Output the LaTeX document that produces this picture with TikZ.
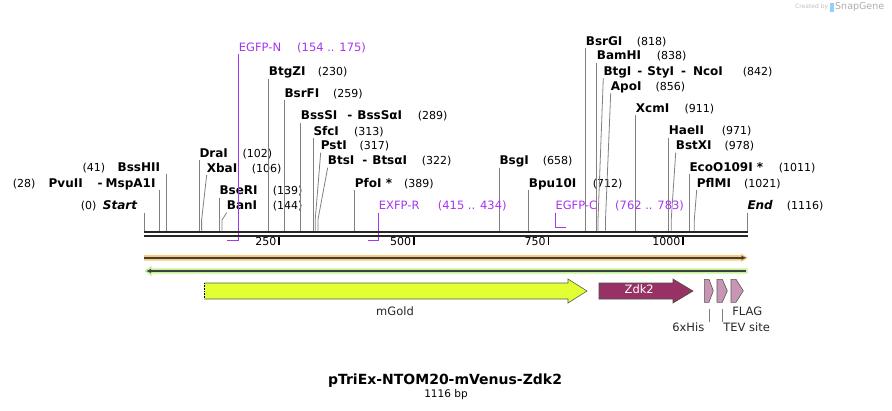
\documentclass[tikz,border=0pt]{standalone}
\usepackage{fontspec}
\setmainfont{DejaVu Sans}
\usetikzlibrary{arrows.meta}
\definecolor{primc}{RGB}{166,52,240}
\definecolor{orgband}{RGB}{251,200,120}
\definecolor{grnband}{RGB}{196,242,150}
\definecolor{mgoldc}{RGB}{225,255,50}
\definecolor{zdkc}{RGB}{153,50,100}
\definecolor{tagc}{RGB}{200,150,180}
\definecolor{leadc}{RGB}{128,128,128}
\definecolor{darkln}{RGB}{64,64,64}
\newcommand{\enzR}[6]{%
 \node[enz] (#1) at (#2,#3) {#4};
 \node[num] (#1n) at (#5,#3) {#6};
 \coordinate (#1s) at (#2,230.5);
 \draw[lead] (#1.south west) -- (#1s);}
\newcommand{\enzS}[7]{%
 \node[enz] (#1) at (#2,#3) {#4};
 \node[num] (#1n) at (#5,#3) {#6};
 \coordinate (#1s) at (#7,230.5);
 \draw[lead] (#1.south west) -- ([yshift=10.5pt]#1s) -- (#1s);}
\newcommand{\enzL}[7]{%
 \node[enz,anchor=east] (#1) at (#2,#3) {#4};
 \node[num] (#1n) at (#5,#3) {#6};
 \coordinate (#1s) at (#7,230.5);
 \draw[lead] (#1s |- #1.south) -- (#1s);}
\newcommand{\dsh}[2]{\hspace{#1}-\hspace{#2}}
\begin{document}
\begin{tikzpicture}[x=1pt,y=-1pt,
  enz/.style={font=\fontsize{12}{13}\selectfont\bfseries, anchor=west, inner sep=0pt, text height=8.8pt, text depth=2.6pt},
  num/.style={font=\fontsize{11}{12}\selectfont, anchor=west, inner sep=0pt, text height=8.8pt, text depth=2.6pt},
  lead/.style={draw=leadc, line width=0.8pt},
  prim/.style={draw=primc, line width=1.5pt},
  primtxt/.style={num, font=\fontsize{11.5}{12}\selectfont, text=primc},
  barln/.style={draw=black!85, line width=2.3pt},
  tick/.style={draw=black, line width=1.6pt},
  featlbl/.style={font=\fontsize{11.5}{12}\selectfont, inner sep=0pt, text height=8.5pt, text depth=2.5pt, text=black!85},
  tagshape/.style={fill=tagc, draw=black!65, line width=0.6pt}]
\useasboundingbox (0,0) rectangle (892,410);

% ---- credit ----
\node[anchor=west, inner sep=0pt, text=gray!50, font=\fontsize{6}{7}\selectfont] (cred) at (795,7) {Created by};
\fill[blue!40!cyan!45] (830,3) rectangle (833.5,11.5);
\node[anchor=west, inner sep=0pt, text=gray!65, font=\fontsize{9.5}{10}\selectfont] (snap) at (835,7) {SnapGene};

% ---- enzyme sites ----
\enzL{start}{137.3}{206.7}{\itshape Start}{80.7}{(0)}{144.3}
\enzL{pvu}{155.7}{184}{PvuII\dsh{15pt}{3pt}MspA1I}{12.7}{(28)}{159.7}
\enzL{bsshii}{160.3}{168.3}{BssHII}{82.3}{(41)}{166.3}
\enzR{dra}{199.3}{154}{DraI}{242.3}{(102)}
\enzS{xba}{206.7}{169}{XbaI}{251.7}{(106)}{201.6}
\enzR{bseri}{219.3}{191.7}{BseRI}{272.7}{(139)}
\enzS{ban}{226.7}{206.7}{BanI}{272.7}{(144)}{222.0}
\enzR{btgzi}{268.7}{72.7}{BtgZI}{317.7}{(230)}
\enzR{bsrfi}{284.3}{94}{BsrFI}{333}{(259)}
\enzR{bsssi}{300.7}{116.7}{BssSI\dsh{10pt}{5pt}BssSαI}{417.7}{(289)}
\enzR{sfci}{313.3}{132}{SfcI}{354}{(313)}
\enzS{psti}{320.7}{146.7}{PstI}{359.3}{(317)}{315.2}
\enzS{btsi}{327.7}{161.7}{BtsI\dsh{8pt}{5pt}BtsαI}{421.7}{(322)}{317.9}
\enzR{pfoi}{354.7}{184}{PfoI *}{404}{(389)}
\enzR{bsgi}{499.3}{161.7}{BsgI}{542.7}{(658)}
\enzR{bpu}{528.7}{184}{Bpu10I}{592.7}{(712)}
\enzR{bsrgi}{585.7}{42.3}{BsrGI}{636.7}{(818)}
\enzR{bamhi}{596.7}{56.7}{BamHI}{656.7}{(838)}
\enzS{btgi}{603.3}{72.3}{BtgI\dsh{6pt}{5pt}StyI\dsh{7pt}{7pt}NcoI}{742.7}{(842)}{598.0}
\enzS{apoi}{610.7}{87.3}{ApoI}{655.3}{(856)}{605.5}
\enzR{xcmi}{635.7}{109.3}{XcmI}{684.3}{(911)}
\enzR{haeii}{668.7}{131.7}{HaeII}{721.7}{(971)}
\enzS{bstxi}{675.7}{146.7}{BstXI}{724.3}{(978)}{671.2}
\enzR{eco}{689.3}{168.3}{EcoO109I *}{778.7}{(1011)}
\enzS{pflmi}{696.7}{184}{PflMI}{744}{(1021)}{694.3}
\enzR{endl}{747.3}{206.7}{\itshape End}{786.7}{(1116)}

% ---- primers ----
\node[primtxt] (egfpn) at (238.7,48.3) {EGFP-N};
\node[primtxt] (egfpnr) at (297,48.3) {(154 .. 175)};
\coordinate (pn1) at (227.4,240.7);
\coordinate (pn2) at (238.7,240.7);
\draw[prim] (egfpn.south west) -- (pn2) -- (pn1);

\node[primtxt] (exfpr) at (378.7,206.7) {EXFP-R};
\node[primtxt] (exfprr) at (437.7,206.7) {(415 .. 434)};
\coordinate (pr1) at (368.0,240.7);
\coordinate (pr2) at (378.7,240.7);
\draw[prim] (exfpr.south west) -- (pr2) -- (pr1);

\node[primtxt] (egfpc) at (555.3,206.7) {EGFP-C};
\node[primtxt] (egfpcr) at (615,206.7) {(762 .. 783)};
\coordinate (pc1) at (555.3,227.7);
\coordinate (pc2) at (566.2,227.7);
\draw[prim] (egfpc.south west) -- (pc1) -- (pc2);

% ---- sequence bar ----
\draw[barln] (144,232.2) -- (747.5,232.2);
\draw[barln] (144,235.8) -- (747.5,235.8);
\foreach \t/\xx in {250/279.1,500/413.8,750/548.4,1000/683.0}{
  \draw[tick] (\xx,237) -- (\xx,245);
  \node[num,anchor=east] (tk\t) at (\xx-2.5,242.5) {\t};
}

% ---- strand features ----
\fill[orgband] (144,255) -- (741,255) -- (741,253.5) -- (748,257.8) -- (741,262) -- (741,260.7) -- (144,260.7) -- cycle;
\draw[darkln, line width=1.4pt, -{Latex[length=5pt,width=4.5pt]}] (144,257.8) -- (746.5,257.8);
\fill[grnband] (747.5,268.3) -- (151.5,268.3) -- (151.5,265.7) -- (144.5,271) -- (151.5,276.3) -- (151.5,273.7) -- (747.5,273.7) -- cycle;
\draw[darkln, line width=1.4pt, -{Latex[length=5pt,width=4.5pt]}] (745.5,271) -- (146,271);

% ---- mGold ----
\fill[mgoldc] (204.7,283) -- (568,283) -- (568,279) -- (587,291) -- (568,303) -- (568,299) -- (204.7,299) -- cycle;
\draw[black!65, line width=0.6pt] (204.7,283) -- (568,283) -- (568,279) -- (587,291) -- (568,303) -- (568,299) -- (204.7,299);
\draw[black, line width=0.6pt, densely dotted] (204.7,283) -- (204.7,299);
\node[featlbl] (mgold) at (395,312) {mGold};

% ---- Zdk2 ----
\draw[fill=zdkc, draw=black!70, line width=0.6pt] (599,283) -- (673,283) -- (673,279) -- (693,291) -- (673,303) -- (673,299) -- (599,299) -- cycle;
\node[featlbl, text=white] (zdk) at (639.2,290.7) {Zdk2};

% ---- tags ----
\draw[tagshape] (704.3,279.3) -- (709,279.3) -- (713.3,290.8) -- (709,302.3) -- (704.3,302.3) -- cycle;
\draw[tagshape] (717,279.3) -- (722.3,279.3) -- (727.3,290.8) -- (722.3,302.3) -- (717,302.3) -- cycle;
\draw[tagshape] (731,279.3) -- (736,279.3) -- (743.3,290.8) -- (736,302.3) -- (731,302.3) -- cycle;
\coordinate (hisA) at (709,309);
\coordinate (tevA) at (722.3,309);
\node[featlbl] (flag) at (747.3,312) {FLAG};
\node[featlbl] (his) at (688.3,328) {6xHis};
\node[featlbl] (tev) at (746.7,328) {TEV site};
\draw[lead] (hisA) -- (hisA |- his.north);
\draw[lead] (tevA) -- (tevA |- tev.north);

% ---- title ----
\node[inner sep=0pt, font=\fontsize{14}{16}\selectfont\bfseries] (title) at (445,380.5) {pTriEx-NTOM20-mVenus-Zdk2};
\node[inner sep=0pt, font=\fontsize{10.5}{12}\selectfont] (len) at (446,394.3) {1116 bp};
\end{tikzpicture}
\end{document}
